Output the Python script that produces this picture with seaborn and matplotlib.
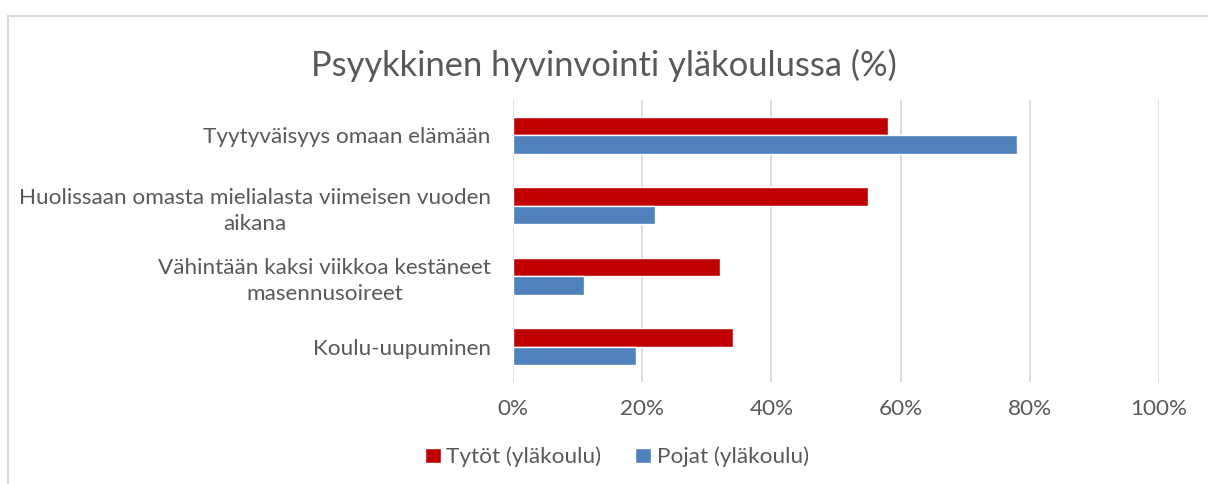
import matplotlib
matplotlib.use("Agg")
import matplotlib.pyplot as plt
import seaborn as sns
import pandas as pd
from matplotlib.patches import Rectangle

categories = [
    "Tyytyväisyys omaan elämään",
    "Huolissaan omasta mielialasta viimeisen vuoden\naikana",
    "Vähintään kaksi viikkoa kestäneet\nmasennusoireet",
    "Koulu-uupuminen",
]
girls = [58, 55, 32, 34]
boys = [78, 22, 11, 19]
series_names = ["Tytöt (yläkoulu)", "Pojat (yläkoulu)"]
xticks = [0, 20, 40, 60, 80, 100]
xtick_labels = ["0%", "20%", "40%", "60%", "80%", "100%"]
title = "Psyykkinen hyvinvointi yläkoulussa (%)"

df = pd.DataFrame({
    "cat": categories * 2,
    "val": girls + boys,
    "series": [series_names[0]] * 4 + [series_names[1]] * 4,
})

sns.set_style("white")
plt.rcParams["font.family"] = ["Lato", "DejaVu Sans"]
text_color = "#595959"
fs = 16.2

fig = plt.figure(figsize=(12.08, 4.84), dpi=100)
ax = fig.add_axes([513/1208, 1-382/484, (1159-513)/1208, (382-100)/484])

sns.barplot(data=df, y="cat", x="val", hue="series", orient="h",
            palette=["#C00000", "#4F81BD"], width=0.52, ax=ax,
            saturation=1, legend=True)

ax.set_xlim(0, 100)
ax.set_ylim(3.5, -0.5)
ax.set_xticks(xticks)
ax.set_xticklabels(xtick_labels)
ax.xaxis.grid(True, color="#d9d9d9", linewidth=1.3)
ax.set_axisbelow(True)
for s in ax.spines.values():
    s.set_visible(False)
ax.set_xlabel("")
ax.set_ylabel("")
ax.tick_params(axis="x", length=0, pad=12, labelsize=fs, labelcolor=text_color)
ax.tick_params(axis="y", length=0, pad=16, labelsize=fs, labelcolor=text_color)
for lab in ax.get_yticklabels():
    lab.set_multialignment("center")
    lab.set_linespacing(1.38)

handles, labels = ax.get_legend_handles_labels()
ax.get_legend().remove()
fig.legend(handles, labels, loc="center", bbox_to_anchor=(617/1208, 1-457/484),
           ncol=2, frameon=False, fontsize=fs, labelcolor=text_color,
           handlelength=0.7, handleheight=0.7, handletextpad=0.25,
           columnspacing=1.5)

fig.text(0.5, 1-65/484, title, ha="center", va="center", fontsize=24.8,
         color=text_color)

fig.patches.append(Rectangle((8/1208, -0.01), 1.05, 1-16/484+0.01,
                             transform=fig.transFigure, fill=False,
                             edgecolor="#d9d9d9", linewidth=1.5))

fig.savefig("out.png", dpi=100)
